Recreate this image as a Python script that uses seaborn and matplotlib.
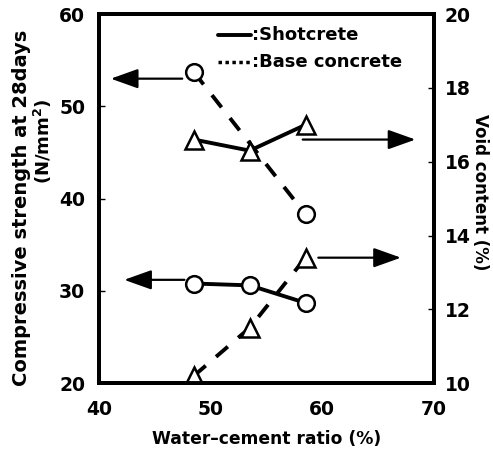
import matplotlib
matplotlib.use("Agg")
import matplotlib.pyplot as plt
import seaborn as sns
import pandas as pd

sns.set_theme(style="white")
plt.rcParams['font.family'] = ['DejaVu Sans']
plt.rcParams['font.weight'] = 'bold'
plt.rcParams['text.color'] = 'black'
plt.rcParams['axes.labelcolor'] = 'black'
plt.rcParams['xtick.color'] = 'black'
plt.rcParams['ytick.color'] = 'black'

wc_ratio = [48.5, 53.5, 58.5]
wc_base_strength = [48.5, 58.5]
strength_shotcrete = [30.8, 30.6, 28.7]
strength_base = [53.7, 38.3]
void_shotcrete = [16.6, 16.3, 17.0]
void_base = [10.2, 11.5, 13.4]

fig = plt.figure(figsize=(4.93, 4.54), dpi=100)
ax = fig.add_axes([0.201, 0.156, 0.679, 0.813])
ax2 = ax.twinx()

mk = dict(markerfacecolor='white', markeredgecolor='black', markeredgewidth=1.8, markersize=12)

df1 = pd.DataFrame({'x': wc_ratio, 'y': strength_shotcrete})
sns.lineplot(data=df1, x='x', y='y', ax=ax, color='black', lw=2.8, marker='o', **mk)
df2 = pd.DataFrame({'x': wc_base_strength, 'y': strength_base})
sns.lineplot(data=df2, x='x', y='y', ax=ax, color='black', lw=2.8, marker='o',
             linestyle=(0, (4, 3.5)), **mk)
df3 = pd.DataFrame({'x': wc_ratio, 'y': void_shotcrete})
sns.lineplot(data=df3, x='x', y='y', ax=ax2, color='black', lw=2.8, marker='^',
             **dict(mk, markersize=13))
df4 = pd.DataFrame({'x': wc_ratio, 'y': void_base})
sns.lineplot(data=df4, x='x', y='y', ax=ax2, color='black', lw=2.8, marker='^',
             linestyle=(0, (4, 3.5)), **dict(mk, markersize=13))

ax.set_xlim(40, 70)
ax.set_ylim(20, 60)
ax2.set_ylim(10, 20)
ax.set_xticks([40, 50, 60, 70])
ax.set_yticks([20, 30, 40, 50, 60])
ax2.set_yticks([10, 12, 14, 16, 18, 20])

for a in (ax, ax2):
    for s in a.spines.values():
        s.set_linewidth(2.8)
        s.set_color('black')
    a.tick_params(direction='in', length=4, width=1, labelsize=13.5, colors='black', pad=6)
for lab in ax.get_xticklabels() + ax.get_yticklabels() + ax2.get_yticklabels():
    lab.set_fontweight('bold')
ax.tick_params(axis='y', pad=10)
ax.tick_params(axis='x', pad=12)
ax2.tick_params(axis='y', pad=8)

ax.set_xlabel('Water\u2013cement ratio (%)', fontsize=12.3, fontweight='bold', labelpad=8)
ax.set_ylabel('')
ax2.set_ylabel('')
fig.text(0.0446, 0.542, 'Compressive strength at 28days', rotation=90, fontsize=14,
         fontweight='bold', ha='center', va='center')
fig.text(0.0872, 0.689, '(N/mm$\\mathbf{^2}$)', rotation=90, fontsize=13,
         fontweight='bold', ha='center', va='center')
fig.text(0.974, 0.577, 'Void content (%)', rotation=270, fontsize=12,
         fontweight='bold', ha='center', va='center')

# arrows
arr = dict(arrowstyle='-|>,head_length=1.4,head_width=0.5', color='black', lw=1.6)
ax.annotate('', xy=(40.8, 53.0), xytext=(47.7, 53.0), arrowprops=arr)
ax.annotate('', xy=(42.0, 31.2), xytext=(47.9, 31.2), arrowprops=arr)
ax2.annotate('', xy=(68.6, 16.6), xytext=(58.0, 16.6), arrowprops=arr)
ax2.annotate('', xy=(67.3, 13.4), xytext=(59.4, 13.4), arrowprops=arr)

# legend
ax.plot([0.355, 0.455], [0.943, 0.943], transform=ax.transAxes, color='black', lw=2.8)
ax.plot([0.355, 0.45], [0.870, 0.870], transform=ax.transAxes, color='black', lw=2.5,
        linestyle=(0, (1, 1)))
ax.text(0.458, 0.943, ':Shotcrete', transform=ax.transAxes, fontsize=13,
        fontweight='bold', va='center', ha='left')
ax.text(0.458, 0.870, ':Base concrete', transform=ax.transAxes, fontsize=13,
        fontweight='bold', va='center', ha='left')

fig.savefig('out.png', dpi=100)
